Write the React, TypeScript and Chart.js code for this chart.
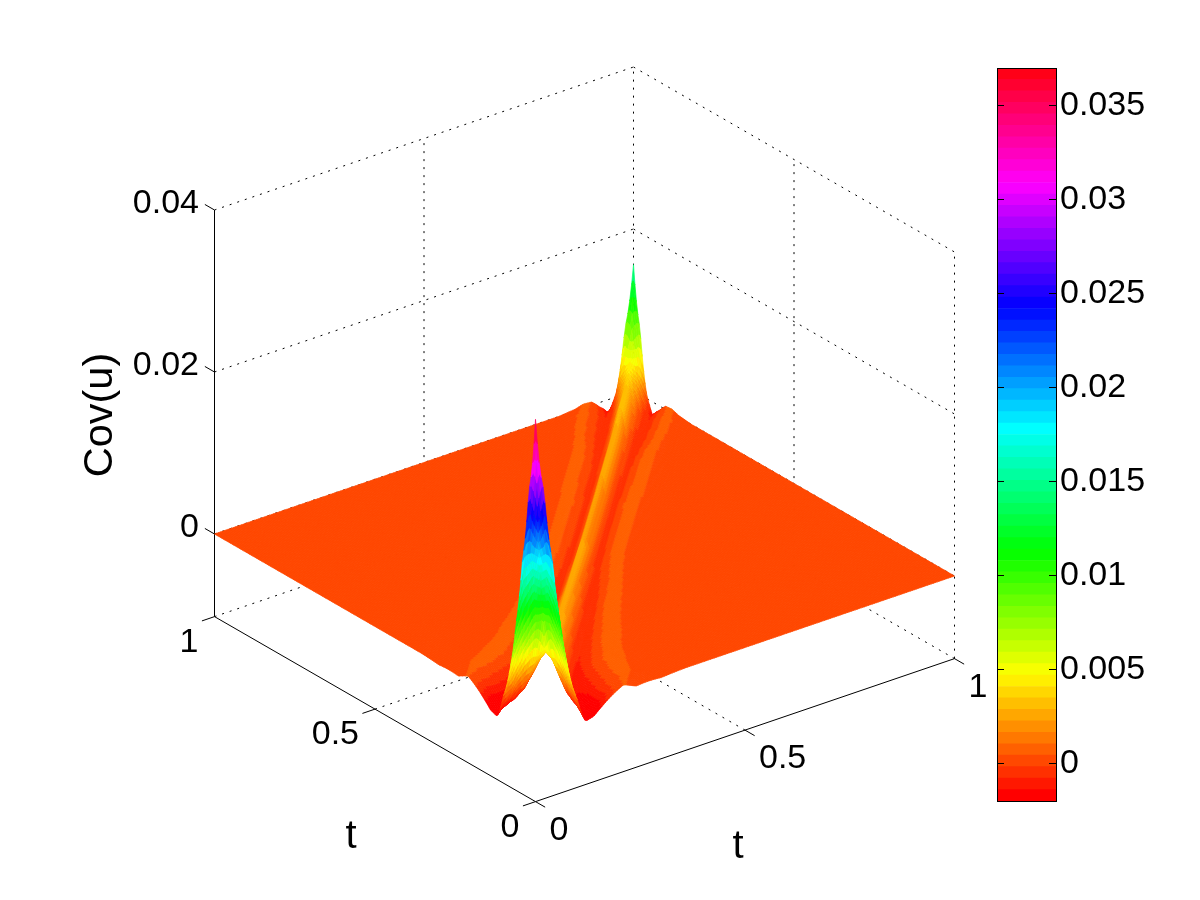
import React, { useEffect, useRef } from "react";
import { Chart, registerables } from "chart.js";

Chart.register(...registerables);

// ---- values ----
const zTicks = [0, 0.02, 0.04];
const tTicks = [0, 0.5, 1];
const colorbarTicks = [0, 0.005, 0.01, 0.015, 0.02, 0.025, 0.03, 0.035];
const colorMin = -0.00202;
const colorMax = 0.03697;
const colorLevels = 64;
const zFloor = -0.0102;
const zCeil = 0.04;

// separation |t1 - t2|
const separations = [0, 0.02, 0.04, 0.06, 0.08, 0.1, 0.12, 0.14, 0.16, 0.18, 0.21, 0.24, 0.3, 0.36];
// mean position (t1 + t2) / 2
const stations = [
  0, 0.01, 0.02, 0.03, 0.04, 0.05, 0.06, 0.07, 0.08, 0.09, 0.105, 0.12, 0.15, 0.18, 0.25, 0.35, 0.5, 0.65, 0.8,
  0.88, 0.905, 0.925, 0.94, 0.95, 0.96, 0.97, 0.98, 0.99, 1,
];
// Cov(u) per station (rows) and separation (columns)
const covRows = [
  [0.037, 0.028, 0.019, 0.0105, 0.0042, 0.0006, -0.0024, -0.0021, -0.0012, -0.0004, 0.0005, -0.00018, -0.00018, 0],
  [0.031, 0.028, 0.019, 0.0105, 0.0042, 0.0006, -0.0024, -0.0021, -0.0012, -0.0004, 0.0005, -0.00018, -0.00018, 0],
  [0.0243, 0.0235, 0.019, 0.0105, 0.0042, 0.0006, -0.0024, -0.0021, -0.0012, -0.0004, 0.0005, -0.00018, -0.00018, 0],
  [0.021, 0.0195, 0.016, 0.0105, 0.0042, 0.0006, -0.0024, -0.0021, -0.0012, -0.0004, 0.0005, -0.00018, -0.00018, 0],
  [0.0185, 0.017, 0.013, 0.0085, 0.0042, 0.0006, -0.0024, -0.0021, -0.0012, -0.0004, 0.0005, -0.00018, -0.00018, 0],
  [0.016, 0.0145, 0.0105, 0.0065, 0.0028, 0.0006, -0.0024, -0.0021, -0.0012, -0.0004, 0.0005, -0.00018, -0.00018, 0],
  [0.0135, 0.012, 0.008, 0.0045, 0.0012, -0.0008, -0.0024, -0.0021, -0.0012, -0.0004, 0.0005, -0.00018, -0.00018, 0],
  [0.0115, 0.0095, 0.006, 0.0028, 0.0002, -0.0014, -0.0024, -0.0021, -0.0012, -0.0004, 0.0005, -0.00018, -0.00018, 0],
  [0.0095, 0.007, 0.0038, 0.0012, -0.0008, -0.0018, -0.0024, -0.002, -0.0012, -0.0004, 0.0005, -0.00018, -0.00018, 0],
  [0.0052, 0.004, 0.0018, -0.0002, -0.0014, -0.002, -0.0022, -0.0018, -0.0011, -0.0004, 0.0005, -0.00018, -0.00018, 0],
  [0.004, 0.003, 0.001, -0.0008, -0.0016, -0.0019, -0.0018, -0.0014, -0.0008, -0.0002, 0.0005, -0.00018, -0.00018, 0],
  [0.0036, 0.0025, 0.0006, -0.0009, -0.0014, -0.0014, -0.0011, -0.0007, -0.0002, 0.0002, 0.0006, -0.00018, -0.00018, 0],
  [0.0033, 0.002, 0.0002, -0.0009, -0.001, -0.0008, -0.0004, 0, 0.0004, 0.0006, 0.0005, 0.0002, -0.00018, 0],
  [0.0031, 0.0017, -0.0001, -0.0009, -0.0008, -0.0003, 0.0002, 0.0005, 0.0007, 0.0006, 0.0003, 0.0001, -0.0001, 0],
  [0.003, 0.0014, -0.0003, -0.0008, -0.0004, 0.0002, 0.0006, 0.0007, 0.0005, 0.0002, 0, 0, 0, 0],
  [0.0029, 0.001, -0.0005, -0.0007, 0.0001, 0.0006, 0.0006, 0.0004, 0.0001, 0, 0, 0, 0, 0],
  [0.0028, 0.0002, -0.0006, 0.0002, 0.0006, 0.0005, 0.0003, 0.0001, 0, 0, 0, 0, 0, 0],
  [0.0028, 0.0002, -0.0006, 0.0003, 0.0006, 0.0005, 0.0003, 0.0001, 0, 0, 0, 0, 0, 0],
  [0.003, 0.0005, -0.0006, -0.0001, 0.0005, 0.0006, 0.0003, 0.0001, 0, 0, 0, 0, 0, 0],
  [0.0035, 0.001, -0.0005, -0.0006, 0.0001, 0.0005, 0.0005, 0.0002, 0.0001, 0, 0, 0, 0, 0],
  [0.0036, 0.0012, -0.0005, -0.0007, 0, 0.0005, 0.0005, 0.0003, 0.0001, 0, 0, 0, 0, 0],
  [0.0037, 0.0015, -0.0005, -0.0008, -0.0001, 0.0004, 0.0005, 0.0002, 0.0001, 0, 0, 0, 0, 0],
  [0.0039, 0.0018, -0.0004, -0.0009, -0.0002, 0.0004, 0.0005, 0.0002, 0.0001, 0, 0, 0, 0, 0],
  [0.0042, 0.0022, -0.0003, -0.001, -0.0004, 0.0004, 0.0005, 0.0002, 0.0001, 0, 0, 0, 0, 0],
  [0.0047, 0.0028, -0.0001, -0.0012, -0.0006, 0.0004, 0.0005, 0.0002, 0.0001, 0, 0, 0, 0, 0],
  [0.0055, 0.0035, 0.0002, -0.0017, -0.0006, 0.0004, 0.0005, 0.0002, 0.0001, 0, 0, 0, 0, 0],
  [0.0075, 0.0055, 0.0007, -0.0017, -0.0006, 0.0004, 0.0005, 0.0002, 0.0001, 0, 0, 0, 0, 0],
  [0.0115, 0.0083, 0.0007, -0.0017, -0.0006, 0.0004, 0.0005, 0.0002, 0.0001, 0, 0, 0, 0, 0],
  [0.0156, 0.0083, 0.0007, -0.0017, -0.0006, 0.0004, 0.0005, 0.0002, 0.0001, 0, 0, 0, 0, 0],
];

// ---- view: projection of (t1, t2, Cov) onto the chart's two scales ----
const PX_PER_COV = 8100;
const VIEW = { x0: 535, ax: 419, bx: -321, aLift: 143, bDrop: 185 };
const project = (a: number, b: number, z: number) => ({
  x: VIEW.x0 + VIEW.ax * a + VIEW.bx * b,
  y: z + (VIEW.aLift * a - VIEW.bDrop * (1 - b)) / PX_PER_COV,
});

const hsvLevel = (i: number) => {
  const h = (i / colorLevels) * 6;
  const s = Math.floor(h);
  const f = h - s;
  const up = Math.round(255 * f);
  const dn = Math.round(255 * (1 - f));
  const rgb = [
    [255, up, 0],
    [dn, 255, 0],
    [0, 255, up],
    [0, dn, 255],
    [up, 0, 255],
    [255, 0, dn],
  ][s % 6];
  return `rgb(${rgb[0]},${rgb[1]},${rgb[2]})`;
};
const palette = Array.from({ length: colorLevels }, (_, i) => hsvLevel(i));
const colorOf = (z: number) => {
  const i = Math.floor(((z - colorMin) / (colorMax - colorMin)) * colorLevels);
  return palette[Math.max(0, Math.min(colorLevels - 1, i))];
};

const bracket = (list: number[], v: number) => {
  let i = 0;
  while (i < list.length - 2 && v > list[i + 1]) i++;
  const f = Math.max(0, Math.min(1, (v - list[i]) / (list[i + 1] - list[i])));
  return [i, f];
};
// read the table at a mesh node of the shaded surface
const covAt = (a: number, b: number) => {
  const [r, fr] = bracket(stations, (a + b) / 2);
  const d = Math.abs(a - b);
  if (d >= separations[separations.length - 1]) return 0;
  const [c, fc] = bracket(separations, d);
  const top = covRows[r][c] * (1 - fc) + covRows[r][c + 1] * fc;
  const bot = covRows[r + 1][c] * (1 - fc) + covRows[r + 1][c + 1] * fc;
  return top * (1 - fr) + bot * fr;
};

const MESH = 220;
const surfaceNodes: { x: number; y: number; z: number }[] = [];
for (let i = 0; i <= MESH; i++) {
  for (let j = 0; j <= MESH; j++) {
    const a = i / MESH;
    const b = j / MESH;
    const z = covAt(a, b);
    surfaceNodes.push({ ...project(a, b, z), z });
  }
}

const seg = (p: [number, number, number], q: [number, number, number]) => [
  project(p[0], p[1], p[2]),
  project(q[0], q[1], q[2]),
];
const lineSet = (data: any[], dotted: boolean) => ({
  type: "scatter",
  data,
  showLine: true,
  pointRadius: 0,
  borderColor: "#000",
  borderWidth: 1,
  borderDash: dotted ? [2, 6] : [],
  fill: false,
  clip: false,
});

const dottedLines: any[] = [];
for (const z of zTicks) {
  dottedLines.push(seg([0, 1, z], [1, 1, z]));
  dottedLines.push(seg([1, 1, z], [1, 0, z]));
}
for (const v of tTicks) {
  if (v > 0) {
    dottedLines.push(seg([v, 0, zFloor], [v, 1, zFloor]));
    dottedLines.push(seg([0, v, zFloor], [1, v, zFloor]));
  }
  dottedLines.push(seg([1, v, zFloor], [1, v, zCeil]));
}
dottedLines.push(seg([0.5, 1, zFloor], [0.5, 1, zCeil]));
const solidLines: any[] = [
  seg([0, 1, zFloor], [0, 1, zCeil]),
  seg([0, 0, zFloor], [1, 0, zFloor]),
  seg([0, 0, zFloor], [0, 1, zFloor]),
];
for (const v of tTicks) {
  solidLines.push(seg([v, 0, zFloor], [v, -0.03, zFloor]));
  solidLines.push(seg([0, v, zFloor], [-0.03, v, zFloor]));
}
for (const z of zTicks) {
  solidLines.push(seg([0, 1, z], [0, 1.03, z]));
}

const FONT = "Liberation Sans, Arial, sans-serif";

const surfacePlugin = {
  id: "surface",
  afterDatasetsDraw(chart: any) {
    const { ctx, scales } = chart;
    const nodes = chart.data.datasets[0].data;
    const n = MESH + 1;
    const px = new Float32Array(nodes.length);
    const py = new Float32Array(nodes.length);
    nodes.forEach((p: any, k: number) => {
      px[k] = scales.x.getPixelForValue(p.x);
      py[k] = scales.y.getPixelForValue(p.y);
    });
    ctx.save();
    ctx.lineWidth = 0.7;
    ctx.lineJoin = "round";
    let current = "";
    const flush = () => {
      if (current) {
        ctx.fillStyle = current;
        ctx.strokeStyle = current;
        ctx.fill();
        ctx.stroke();
      }
    };
    for (let i = MESH - 1; i >= 0; i--) {
      for (let j = MESH - 1; j >= 0; j--) {
        const k = [i * n + j, (i + 1) * n + j, (i + 1) * n + j + 1, i * n + j + 1];
        const mean = (nodes[k[0]].z + nodes[k[1]].z + nodes[k[2]].z + nodes[k[3]].z) / 4;
        const c = colorOf(mean);
        if (c !== current) {
          flush();
          ctx.beginPath();
          current = c;
        }
        ctx.moveTo(px[k[0]], py[k[0]]);
        ctx.lineTo(px[k[1]], py[k[1]]);
        ctx.lineTo(px[k[2]], py[k[2]]);
        ctx.lineTo(px[k[3]], py[k[3]]);
        ctx.closePath();
      }
    }
    flush();
    ctx.restore();
  },
  afterDraw(chart: any) {
    const { ctx, scales } = chart;
    const at = (a: number, b: number) => {
      const p = project(a, b, zFloor);
      return [scales.x.getPixelForValue(p.x), scales.y.getPixelForValue(p.y)];
    };
    ctx.save();
    ctx.fillStyle = "#000";
    ctx.font = `34px ${FONT}`;
    ctx.textBaseline = "middle";
    for (const v of tTicks) {
      const [x1, y1] = at(v, 0);
      ctx.textAlign = "left";
      ctx.fillText(String(v), x1 + 14, y1 + 29);
      const [x2, y2] = at(0, v);
      ctx.textAlign = "right";
      ctx.fillText(String(v), x2 - 16, y2 + 26);
    }
    ctx.font = `40px ${FONT}`;
    ctx.textAlign = "center";
    ctx.fillText("t", 351, 837);
    ctx.fillText("t", 738, 847);
    ctx.font = `41.5px ${FONT}`;
    ctx.translate(101, 415);
    ctx.rotate(-Math.PI / 2);
    ctx.fillText("Cov(u)", 0, 0);
    ctx.restore();
  },
};

const colorbarFrame = {
  id: "colorbarFrame",
  afterDraw(chart: any) {
    const { ctx, chartArea: ca, scales } = chart;
    ctx.save();
    ctx.strokeStyle = "#000";
    ctx.lineWidth = 1;
    ctx.strokeRect(ca.left + 0.5, ca.top + 0.5, ca.right - ca.left, ca.bottom - ca.top);
    ctx.beginPath();
    for (const v of colorbarTicks) {
      const y = Math.round(scales.y.getPixelForValue(v)) + 0.5;
      ctx.moveTo(ca.left, y);
      ctx.lineTo(ca.left + 7, y);
      ctx.moveTo(ca.right - 7, y);
      ctx.lineTo(ca.right, y);
    }
    ctx.stroke();
    ctx.restore();
  },
};

export default function App() {
  const mainRef = useRef<HTMLCanvasElement>(null);
  const barRef = useRef<HTMLCanvasElement>(null);

  useEffect(() => {
    const main = new Chart(mainRef.current as any, {
      type: "scatter",
      data: {
        datasets: [
          {
            label: "Cov(u)",
            data: surfaceNodes,
            pointRadius: 0,
            showLine: false,
            clip: false,
          } as any,
          ...dottedLines.map((d) => lineSet(d, true)),
          ...solidLines.map((d) => lineSet(d, false)),
        ] as any,
      },
      options: {
        responsive: false,
        animation: false,
        events: [],
        layout: { padding: { top: 68, bottom: 97, left: 0, right: 246 } },
        plugins: { legend: { display: false }, tooltip: { enabled: false } },
        scales: {
          x: { type: "linear", display: false, min: 213.5, max: 953.5 },
          y: {
            type: "linear",
            min: (534 - 803) / PX_PER_COV,
            max: (534 - 68) / PX_PER_COV,
            afterFit: (s: any) => {
              s.width = 214;
            },
            afterBuildTicks: (s: any) => {
              s.ticks = zTicks.map((value) => ({ value }));
            },
            border: { display: false },
            grid: { display: false, drawTicks: false },
            ticks: {
              padding: 15,
              labelOffset: -6,
              color: "#000",
              autoSkip: false,
              font: { family: FONT, size: 34 },
              callback: (v: any) => String(v),
            },
          },
        },
      } as any,
      plugins: [surfacePlugin],
    });

    const bar = new Chart(barRef.current as any, {
      type: "bar",
      data: {
        labels: ["Cov(u)"],
        datasets: palette.map((color, i) => ({
          data: [
            [
              colorMin + ((colorMax - colorMin) * i) / colorLevels,
              colorMin + ((colorMax - colorMin) * (i + 1)) / colorLevels,
            ],
          ],
          backgroundColor: color,
          borderWidth: 0,
          barPercentage: 1,
          categoryPercentage: 1,
          grouped: false,
        })) as any,
      },
      options: {
        responsive: false,
        animation: false,
        events: [],
        layout: { padding: { top: 68, bottom: 99, left: 17, right: 0 } },
        plugins: { legend: { display: false }, tooltip: { enabled: false } },
        scales: {
          x: { display: false },
          y: {
            position: "right",
            min: colorMin,
            max: colorMax,
            afterFit: (s: any) => {
              s.width = 144;
            },
            afterBuildTicks: (s: any) => {
              s.ticks = colorbarTicks.map((value) => ({ value }));
            },
            border: { display: false },
            grid: { display: false, drawTicks: false },
            ticks: {
              padding: 4,
              labelOffset: 1,
              color: "#000",
              autoSkip: false,
              font: { family: FONT, size: 34 },
              callback: (v: any) => String(v),
            },
          },
        },
      } as any,
      plugins: [colorbarFrame],
    });

    return () => {
      main.destroy();
      bar.destroy();
    };
  }, []);

  return (
    <div style={{ position: "absolute", left: 0, top: 0, width: 1200, height: 900, background: "#fff", overflow: "hidden" }}>
      <canvas ref={mainRef} width={1200} height={900} style={{ position: "absolute", left: 0, top: 0 }} />
      <canvas ref={barRef} width={220} height={900} style={{ position: "absolute", left: 980, top: 0 }} />
    </div>
  );
}
